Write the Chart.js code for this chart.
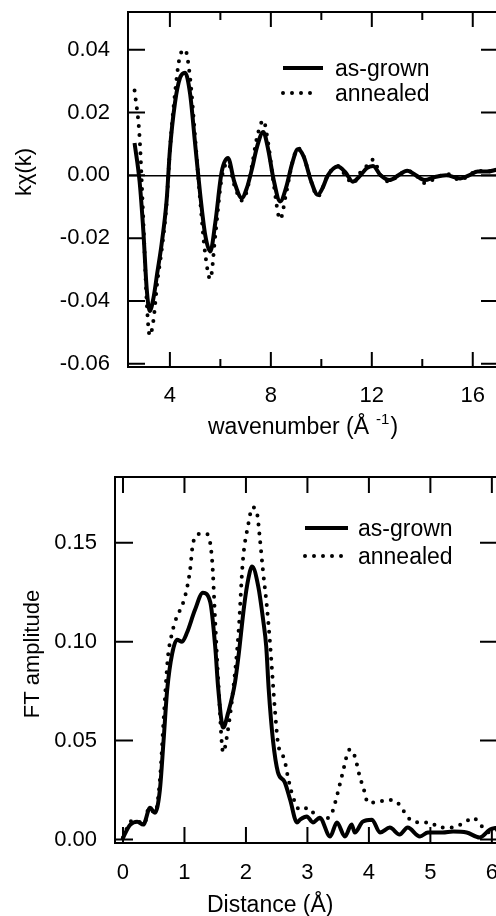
<!DOCTYPE html>
<html lang="en">
<head>
<meta charset="UTF-8">
<title>EXAFS k-space and Fourier transform</title>
<script src="https://cdn.jsdelivr.net/npm/chart.js"></script>
<style>
  html, body { margin: 0; padding: 0; background: #fff; overflow: hidden; }
  #wrap { position: relative; width: 496px; height: 916px; overflow: hidden; }
  canvas { position: absolute; left: 0; }
</style>
</head>
<body>
<div id="wrap">
  <canvas id="kspace" width="500" height="440" style="top:0"></canvas>
  <canvas id="rspace" width="500" height="476" style="top:440px"></canvas>
</div>
<script>
// top panel: k-weighted chi(k)
const kValues = [2.60, 2.80, 2.95, 3.08, 3.20, 3.35, 3.50, 3.67, 3.87, 4.00, 4.20, 4.40, 4.60, 4.80, 5.00,
  5.20, 5.40, 5.60, 5.80, 6.05, 6.30, 6.55, 6.85, 7.05, 7.25, 7.45, 7.70, 7.90, 8.10, 8.37, 8.60, 8.85,
  9.07, 9.30, 9.60, 9.86, 10.05, 10.26, 10.66, 10.95, 11.25, 11.55, 11.80, 12.05, 12.35, 12.70, 13.05,
  13.40, 13.75, 14.10, 14.50, 14.95, 15.50, 15.85, 16.20, 16.55, 16.95];
const chiAsGrown = [0.0103, -0.002, -0.018, -0.036, -0.0432, -0.039, -0.031, -0.022, -0.008, 0.008, 0.023,
  0.031, 0.0327, 0.026, 0.010, -0.006, -0.019, -0.0242, -0.015, 0.001, 0.0055, -0.002, -0.0072, -0.004,
  0.002, 0.009, 0.0138, 0.008, -0.001, -0.0083, -0.004, 0.004, 0.0083, 0.006, -0.002, -0.0062, -0.004,
  0.000, 0.0028, 0.001, -0.002, 0.000, 0.0023, 0.003, 0.000, -0.0015, 0.000, 0.0015, 0.000, -0.0015,
  -0.0005, 0.000, -0.001, 0.000, 0.0012, 0.0012, 0.0018];
const chiAnnealed = [0.027, 0.012, -0.015, -0.040, -0.051, -0.046, -0.034, -0.024, -0.009, 0.008, 0.026,
  0.038, 0.040, 0.031, 0.012, -0.008, -0.025, -0.033, -0.019, -0.001, 0.004, -0.003, -0.008, -0.005,
  0.003, 0.012, 0.0175, 0.010, -0.002, -0.014, -0.006, 0.004, 0.0087, 0.006, -0.002, -0.0068, -0.004,
  0.000, 0.003, 0.000, -0.0025, 0.001, 0.003, 0.005, 0.000, -0.002, 0.000, 0.0015, 0.000, -0.0025,
  -0.001, 0.0005, -0.0015, 0.000, 0.0015, 0.0012, 0.002];
const kMajorTicks = [4, 8, 12, 16];
const kMinorTicks = [6, 10, 14];
const chiTicks = [-0.06, -0.04, -0.02, 0, 0.02, 0.04];

// bottom panel: Fourier transform magnitude
const rAsGrown = [-0.01, 0.05, 0.12, 0.23, 0.33, 0.44, 0.52, 0.60, 0.66, 0.72, 0.80, 0.88, 0.96, 1.04,
  1.17, 1.30, 1.42, 1.50, 1.55, 1.63, 1.71, 1.82, 1.88, 1.97, 2.04, 2.10, 2.20, 2.28, 2.33, 2.37, 2.44,
  2.52, 2.63, 2.72, 2.83, 2.88, 2.99, 3.09, 3.20, 3.37, 3.48, 3.61, 3.72, 3.77, 3.90, 4.05, 4.18, 4.34,
  4.50, 4.63, 4.83, 4.96, 5.20, 5.37, 5.59, 5.80, 5.97, 6.10];
const ftAsGrown = [0.000, 0.004, 0.0075, 0.009, 0.0075, 0.016, 0.0135, 0.025, 0.050, 0.076, 0.094, 0.101,
  0.100, 0.1045, 0.116, 0.1247, 0.120, 0.0975, 0.076, 0.0566, 0.064, 0.079, 0.093, 0.118, 0.132, 0.138,
  0.128, 0.111, 0.0975, 0.076, 0.050, 0.034, 0.029, 0.020, 0.0086, 0.010, 0.0116, 0.0086, 0.011, 0.0015,
  0.0086, 0.0015, 0.0076, 0.0035, 0.009, 0.010, 0.0035, 0.006, 0.0025, 0.006, 0.0015, 0.0035, 0.0035,
  0.004, 0.0035, 0.001, 0.005, 0.006];
const rAnnealed = [0.00, 0.07, 0.15, 0.25, 0.35, 0.42, 0.52, 0.60, 0.66, 0.73, 0.80, 0.88, 0.96, 1.04,
  1.09, 1.14, 1.25, 1.36, 1.45, 1.50, 1.55, 1.63, 1.69, 1.80, 1.88, 1.95, 2.03, 2.11, 2.18, 2.23, 2.28,
  2.34, 2.39, 2.47, 2.52, 2.63, 2.68, 2.76, 2.88, 3.01, 3.12, 3.25, 3.40, 3.48, 3.56, 3.69, 3.77, 3.85,
  3.93, 3.98, 4.13, 4.29, 4.46, 4.55, 4.67, 4.83, 4.99, 5.15, 5.32, 5.56, 5.69, 5.84, 5.97, 6.10];
const ftAnnealed = [0.001, 0.006, 0.0095, 0.009, 0.008, 0.016, 0.0135, 0.030, 0.060, 0.092, 0.1045, 0.113,
  0.118, 0.127, 0.136, 0.150, 0.1545, 0.1545, 0.141, 0.110, 0.080, 0.044, 0.052, 0.078, 0.105, 0.141,
  0.158, 0.168, 0.165, 0.151, 0.135, 0.118, 0.100, 0.066, 0.049, 0.040, 0.032, 0.022, 0.015, 0.016,
  0.0126, 0.010, 0.0136, 0.022, 0.032, 0.0455, 0.042, 0.032, 0.024, 0.0187, 0.0187, 0.020, 0.0187,
  0.015, 0.010, 0.0086, 0.0086, 0.006, 0.006, 0.0086, 0.011, 0.0066, 0.0035, 0.005];
const rTicks = [0, 1, 2, 3, 4, 5, 6];
const ftTicks = [0, 0.05, 0.10, 0.15];

const seriesNames = ['as-grown', 'annealed'];

Chart.defaults.font.family = "'Liberation Sans', Arial, sans-serif";
Chart.defaults.color = '#000';

const toPoints = (xs, ys) => xs.map((v, i) => ({ x: v, y: ys[i] }));

// frame with inward ticks, legend and axis titles
const panelDecor = {
  id: 'panelDecor',
  afterDraw(chart, args, o) {
    const { ctx, chartArea: a, scales: { x, y } } = chart;
    ctx.save();
    ctx.strokeStyle = '#000';
    ctx.lineWidth = 2;
    ctx.beginPath();
    const xt = (vals, len) => vals.forEach(v => {
      const p = x.getPixelForValue(v);
      ctx.moveTo(p, a.bottom); ctx.lineTo(p, a.bottom - len);
      ctx.moveTo(p, a.top); ctx.lineTo(p, a.top + len);
    });
    xt(o.xMajor, o.major);
    xt(o.xMinor, o.minor);
    o.yMajor.forEach(v => {
      const p = y.getPixelForValue(v);
      ctx.moveTo(a.left, p); ctx.lineTo(a.left + o.ytick, p);
      ctx.moveTo(a.right, p); ctx.lineTo(a.right - o.ytick, p);
    });
    ctx.stroke();
    ctx.strokeRect(a.left, a.top, a.width, a.height);

    // legend
    ctx.font = "23px 'Liberation Sans', Arial, sans-serif";
    ctx.fillStyle = '#000';
    ctx.textBaseline = 'alphabetic';
    ctx.textAlign = 'left';
    chart.data.datasets.forEach((ds, i) => {
      const ly = a.top + o.legend.y + i * o.legend.gap;
      ctx.save();
      ctx.lineWidth = ds.borderWidth;
      ctx.lineCap = ds.borderCapStyle || 'butt';
      ctx.setLineDash(ds.borderDash || []);
      ctx.beginPath();
      ctx.moveTo(a.left + o.legend.x, ly);
      ctx.lineTo(a.left + o.legend.x + o.legend.len[i], ly);
      ctx.stroke();
      ctx.restore();
      ctx.fillText(ds.label, a.left + o.legend.textX, ly + o.legend.textDy);
    });

    // axis titles
    const xt0 = o.xTitle;
    let tx = xt0.x;
    ctx.fillText(xt0.text, tx, xt0.y);
    if (xt0.sup) {
      tx += ctx.measureText(xt0.text).width + 7;
      ctx.font = "15px 'Liberation Sans', Arial, sans-serif";
      ctx.fillText(xt0.sup, tx, xt0.y - 10);
      tx += ctx.measureText(xt0.sup).width + 1;
      ctx.font = "23px 'Liberation Sans', Arial, sans-serif";
      ctx.fillText(xt0.after, tx, xt0.y);
    }
    ctx.save();
    ctx.translate(o.yTitle.x, o.yTitle.y);
    ctx.rotate(-Math.PI / 2);
    ctx.textAlign = 'center';
    ctx.textBaseline = 'middle';
    ctx.font = "22px 'Liberation Sans', Arial, sans-serif";
    ctx.fillText(o.yTitle.text, 0, 0);
    ctx.restore();
    ctx.restore();
  }
};

function panel(id, opts) {
  return new Chart(document.getElementById(id), {
    type: 'line',
    data: {
      datasets: [
        { label: seriesNames[0], data: opts.solid, borderColor: '#000', borderWidth: 4,
          pointRadius: 0, cubicInterpolationMode: 'monotone', fill: false },
        { label: seriesNames[1], data: opts.dotted, borderColor: '#000', borderWidth: 4,
          borderDash: [0, 9], borderCapStyle: 'round',
          pointRadius: 0, cubicInterpolationMode: 'monotone', fill: false }
      ]
    },
    options: {
      responsive: false,
      animation: false,
      events: [],
      layout: { padding: { top: opts.top, right: 2, left: 0, bottom: 0 } },
      scales: {
        x: {
          type: 'linear', min: opts.xMin, max: opts.xMax,
          afterBuildTicks: s => { s.ticks = opts.xLabels.map(v => ({ value: v })); },
          afterFit: s => { s.height = opts.xHeight; s.paddingLeft = 0; s.paddingRight = 0; },
          grid: { display: false },
          border: { display: false },
          ticks: { font: { size: 22 }, padding: opts.xPad, maxRotation: 0, autoSkip: false,
            callback: v => String(v) }
        },
        y: {
          type: 'linear', min: opts.yMin, max: opts.yMax,
          afterBuildTicks: s => { s.ticks = opts.yLabels.map(v => ({ value: v })); },
          afterFit: s => { s.width = opts.left; s.paddingTop = 0; s.paddingBottom = 0; },
          grid: { drawTicks: false, lineWidth: 1.5,
            color: c => (opts.zeroLine && c.tick && c.tick.value === 0) ? '#000' : 'rgba(0,0,0,0)' },
          border: { display: false },
          ticks: { font: { size: 22 }, padding: 18, autoSkip: false, callback: v => v.toFixed(2) }
        }
      },
      plugins: {
        legend: { display: false },
        tooltip: { enabled: false },
        panelDecor: opts.decor
      }
    },
    plugins: [panelDecor]
  });
}

panel('kspace', {
  solid: toPoints(kValues, chiAsGrown),
  dotted: toPoints(kValues, chiAnnealed),
  xMin: 2.34, xMax: 17.0, yMin: -0.061, yMax: 0.052,
  xLabels: kMajorTicks, yLabels: chiTicks,
  top: 12, left: 128, xHeight: 73, xPad: 8, zeroLine: true,
  decor: {
    xMajor: kMajorTicks, xMinor: kMinorTicks, yMajor: chiTicks,
    major: 15, minor: 8, ytick: 17,
    legend: { x: 155, len: [40, 36], y: 56, gap: 25, textX: 207, textDy: 8 },
    xTitle: { text: 'wavenumber (Å', sup: '-1', after: ')', x: 208, y: 434 },
    yTitle: { text: 'kχ(k)', x: 25, y: 172 }
  }
});

panel('rspace', {
  solid: toPoints(rAsGrown, ftAsGrown),
  dotted: toPoints(rAnnealed, ftAnnealed),
  xMin: -0.13, xMax: 6.1, yMin: -0.0018, yMax: 0.1833,
  xLabels: rTicks, yLabels: ftTicks,
  top: 37, left: 115, xHeight: 73, xPad: 9, zeroLine: false,
  decor: {
    xMajor: rTicks, xMinor: [], yMajor: ftTicks,
    major: 16, minor: 8, ytick: 18,
    legend: { x: 190, len: [43, 42], y: 51, gap: 28, textX: 243, textDy: 8 },
    xTitle: { text: 'Distance (Å)', x: 207, y: 472 },
    yTitle: { text: 'FT amplitude', x: 33, y: 214 }
  }
});
</script>
</body>
</html>
